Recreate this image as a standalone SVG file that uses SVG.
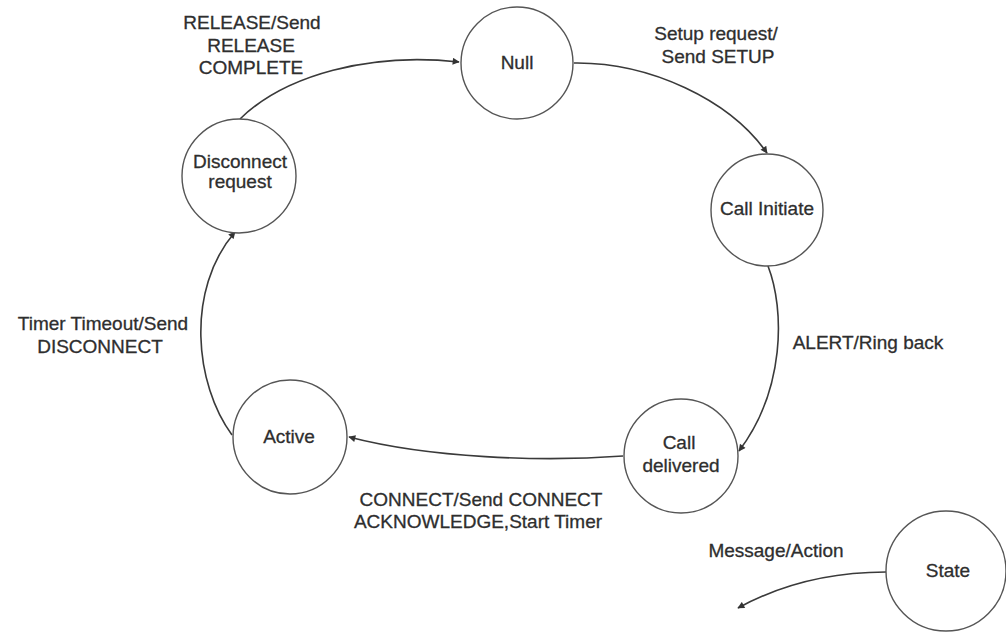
<svg xmlns="http://www.w3.org/2000/svg" width="1006" height="633" viewBox="0 0 1006 633">
<defs>
<style>
.st{fill:#fff;stroke:#555;stroke-width:1.4}
.t{font-family:"Liberation Sans",Arial,sans-serif;font-size:19px;fill:#2e2e2e;stroke:#2e2e2e;stroke-width:0.3;text-anchor:middle}
.e{fill:none;stroke:#3a3a3a;stroke-width:1.6}
</style>
<marker id="ah" viewBox="0 0 10 10" refX="9" refY="5" markerWidth="9" markerHeight="7" markerUnits="userSpaceOnUse" orient="auto">
<path d="M0,0 L10,5 L0,10 Z" fill="#333"/>
</marker>
</defs>
<rect width="1006" height="633" fill="#fff"/>
<g id="connectors">
<path class="e" d="M240,119 C285,75 370,52 459,62" marker-end="url(#ah)"/>
<path class="e" d="M574,63 C650,62 730,100 767,153" marker-end="url(#ah)"/>
<path class="e" d="M768,266 C785,310 785,390 739,451" marker-end="url(#ah)"/>
<path class="e" d="M623,456 C540,462 430,458 349,437" marker-end="url(#ah)"/>
<path class="e" d="M232,435 C195,385 185,290 235,232" marker-end="url(#ah)"/>
<path class="e" d="M886,572 C830,572 780,585 738,608" marker-end="url(#ah)"/>
</g>
<g id="labels">
<text class="t" x="252" y="29">RELEASE/Send</text>
<text class="t" x="251" y="52">RELEASE</text>
<text class="t" x="251" y="74">COMPLETE</text>
<text class="t" x="716" y="40">Setup request/</text>
<text class="t" x="718" y="63">Send SETUP</text>
<text class="t" x="868" y="349">ALERT/Ring back</text>
<text class="t" x="103" y="330">Timer Timeout/Send</text>
<text class="t" x="100" y="353">DISCONNECT</text>
<text class="t" x="481" y="506">CONNECT/Send CONNECT</text>
<text class="t" x="478" y="528">ACKNOWLEDGE,Start Timer</text>
<text class="t" x="776" y="557">Message/Action</text>
</g>
<g id="null"><circle class="st" cx="517" cy="63" r="56"/><text class="t" x="517" y="69">Null</text></g>
<g id="disconnect-request"><circle class="st" cx="239" cy="176" r="57"/><text class="t" x="240" y="168">Disconnect</text><text class="t" x="240" y="188">request</text></g>
<g id="call-initiate"><circle class="st" cx="767" cy="210" r="56"/><text class="t" x="767" y="215">Call Initiate</text></g>
<g id="active"><circle class="st" cx="290" cy="437" r="57"/><text class="t" x="289" y="443">Active</text></g>
<g id="call-delivered"><circle class="st" cx="681" cy="456" r="57"/><text class="t" x="679" y="449">Call</text><text class="t" x="681" y="472">delivered</text></g>
<g id="state"><circle class="st" cx="946" cy="571" r="60"/><text class="t" x="948" y="577">State</text></g>
</svg>
